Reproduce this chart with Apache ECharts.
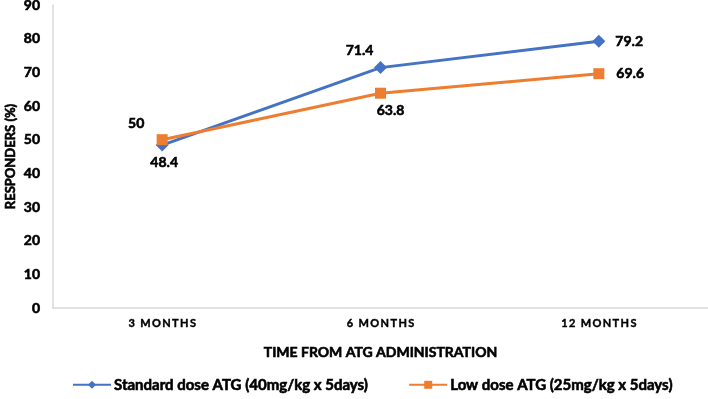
<!DOCTYPE html>
<html>
<head>
<meta charset="utf-8">
<script src="https://cdn.jsdelivr.net/npm/echarts@6/dist/echarts.min.js"></script>
<style>
html,body{margin:0;padding:0;background:#fff;}
#main{width:708px;height:399px;}
</style>
</head>
<body>
<div id="main"></div>
<script>
// data
var months = ['3 MONTHS', '6 MONTHS', '12 MONTHS'];
var standardDose = [48.4, 71.4, 79.2];
var lowDose = [50, 63.8, 69.6];
var yTicks = [0, 10, 20, 30, 40, 50, 60, 70, 80, 90];

var FONT = 'Lato';
var blue = '#4472C4', orange = '#ED7D31';

// where each value label sits
var blueLabel = [
	{position: 'bottom', distance: 4, offset: [2, 0]},
	{position: 'top', distance: 4, offset: [-21, 0]},
	{position: 'right', distance: 10}
];
var orangeLabel = [
	{position: 'top', distance: 4, offset: [-26, 0]},
	{position: 'bottom', distance: 5, offset: [10, 0]},
	{position: 'right', distance: 12}
];

function points(vals, lab) {
	var out = [];
	for (var i = 0; i < vals.length; i++) {
		out.push({value: vals[i], label: lab[i]});
	}
	return out;
}

// heavy text like the original
function heavy(size, extra) {
	var s = {color: '#000', fontFamily: FONT, fontWeight: 'bold', fontSize: size,
		textBorderColor: '#000', textBorderWidth: 0.6};
	for (var k in extra) s[k] = extra[k];
	return s;
}

var option = {
	animation: false,
	grid: {left: 53, right: 0, top: 5, bottom: 91, containLabel: false, outerBoundsMode: 'none'},
	legend: {
		left: 72,
		top: 377,
		padding: 0,
		itemWidth: 38,
		itemHeight: 10,
		itemGap: 40,
		textStyle: heavy(15, {padding: [0, 0, 0, -2]}),
		data: ['Standard dose ATG (40mg/kg x 5days)', 'Low dose ATG (25mg/kg x 5days)']
	},
	xAxis: {
		type: 'category',
		data: months,
		boundaryGap: true,
		axisLine: {lineStyle: {color: '#D9D9D9', width: 1.5}},
		axisTick: {show: false},
		axisLabel: heavy(11, {
			margin: 10,
			textBorderWidth: 0.4,
			formatter: function (v) { return v.split('').join('\u2009'); }
		}),
		name: 'TIME FROM ATG ADMINISTRATION',
		nameLocation: 'middle',
		nameGap: 37,
		nameMoveOverlap: false,
		nameTextStyle: heavy(14)
	},
	yAxis: {
		type: 'value',
		min: yTicks[0],
		max: yTicks[yTicks.length - 1],
		interval: yTicks[1] - yTicks[0],
		axisLine: {show: true, lineStyle: {color: '#D9D9D9', width: 1.5}},
		axisTick: {show: false},
		splitLine: {show: false},
		axisLabel: heavy(14, {margin: 13}),
		name: 'RESPONDERS (%)',
		nameLocation: 'middle',
		nameRotate: 90,
		nameGap: 36,
		nameMoveOverlap: false,
		nameTextStyle: heavy(13)
	},
	series: [
		{
			name: 'Standard dose ATG (40mg/kg x 5days)',
			type: 'line',
			data: points(standardDose, blueLabel),
			symbol: 'diamond',
			symbolSize: 13,
			lineStyle: {color: blue, width: 3},
			itemStyle: {color: blue},
			label: heavy(14, {show: true}),
			z: 3
		},
		{
			name: 'Low dose ATG (25mg/kg x 5days)',
			type: 'line',
			data: points(lowDose, orangeLabel),
			symbol: 'rect',
			symbolSize: 11,
			lineStyle: {color: orange, width: 3},
			itemStyle: {color: orange},
			label: heavy(14, {show: true}),
			z: 4
		}
	]
};

var myChart = echarts.init(document.getElementById('main'));
myChart.setOption(option);
</script>
</body>
</html>
